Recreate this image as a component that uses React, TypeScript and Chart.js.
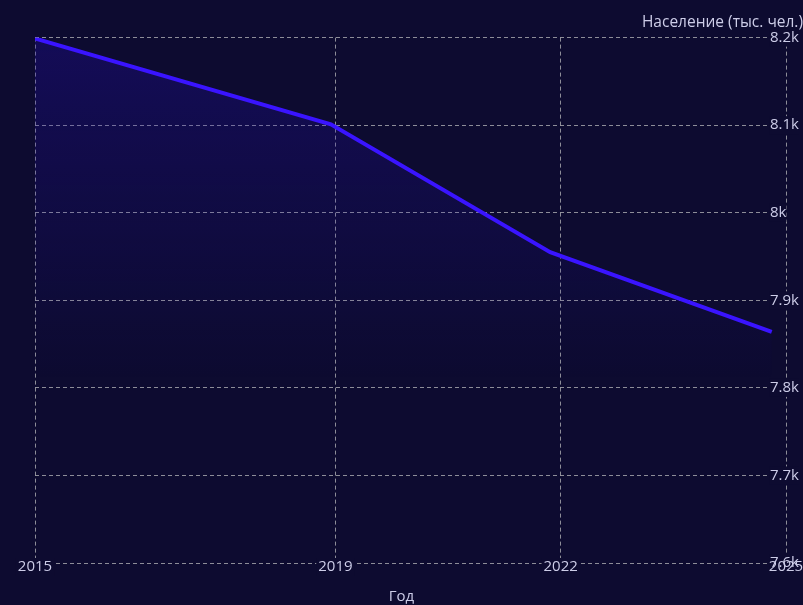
import React, { useEffect, useRef } from 'react';
import { Chart, registerables } from 'chart.js';

Chart.register(...registerables);

// Data
const years = [2015, 2018.94, 2021.86, 2024.81];
const population = [8199, 8101, 7955, 7864];
const xTickValues = [2015, 2019, 2022, 2025];
const yTickValues = [7600, 7700, 7800, 7900, 8000, 8100, 8200];
const yAxisTitle = 'Население (тыс. чел.)';
const xAxisTitle = 'Год';

const BG = '#0d0b30';
const TEXT = '#cdcde8';
const GRID = 'rgba(165,165,170,0.85)';
const LINE = '#3a14ff';
const FONT = '"Open Sans", "Noto Sans", sans-serif';

export default function App() {
  const ref = useRef<HTMLCanvasElement>(null);

  useEffect(() => {
    document.body.style.margin = '0';
    document.body.style.background = BG;
    const canvas = ref.current!;
    const font = { family: FONT, size: 15, weight: 'normal' as const };

    const chart = new Chart(canvas, {
      type: 'line',
      data: {
        datasets: [
          {
            data: years.map((x, i) => ({ x, y: population[i] })),
            borderColor: LINE,
            borderWidth: 4,
            pointRadius: 0,
            tension: 0,
            fill: 'start',
            backgroundColor: (ctx: any) => {
              const c = ctx.chart;
              const area = c.chartArea;
              if (!area) return 'transparent';
              const g = c.ctx.createLinearGradient(0, area.top, 0, area.bottom);
              g.addColorStop(0, 'rgba(35,15,170,0.32)');
              g.addColorStop(0.65, 'rgba(35,15,170,0)');
              return g;
            },
          },
        ],
      },
      options: {
        animation: false,
        responsive: false,
        devicePixelRatio: 1,
        layout: { padding: 0 },
        plugins: {
          legend: { display: false },
          tooltip: { enabled: false },
          title: {
            display: true,
            text: yAxisTitle,
            align: 'end',
            color: TEXT,
            font: { ...font, size: 15.5 },
            padding: { top: 13, bottom: 6 },
          },
          subtitle: {
            display: true,
            position: 'bottom',
            text: xAxisTitle,
            color: TEXT,
            font,
            padding: { top: 0, bottom: -1 },
          },
        },
        scales: {
          y: {
            type: 'linear',
            position: 'right',
            min: 7600,
            max: 8200,
            afterBuildTicks: (s: any) => {
              s.ticks = yTickValues.map((v) => ({ value: v }));
            },
            afterFit: (s: any) => {
              s.width = 17;
            },
            grid: { color: GRID, drawTicks: false, lineWidth: 1 },
            border: { display: false, dash: [4, 3] },
            ticks: {
              color: TEXT,
              font,
              mirror: true,
              padding: 13,
              crossAlign: 'far',
              showLabelBackdrop: true,
              backdropColor: BG,
              backdropPadding: { top: 0, bottom: 0, left: 1, right: 0 },
              callback: (v: any) => Number(v) / 1000 + 'k',
            },
          },
          x: {
            type: 'linear',
            position: 'bottom',
            min: 2015,
            max: 2025,
            afterBuildTicks: (s: any) => {
              s.ticks = xTickValues.map((v) => ({ value: v }));
            },
            afterFit: (s: any) => {
              s.height = 25;
            },
            grid: { color: GRID, drawTicks: false, lineWidth: 1 },
            border: { display: false, dash: [4, 3] },
            ticks: {
              color: TEXT,
              font,
              mirror: true,
              padding: -13,
              maxRotation: 0,
              autoSkip: false,
              showLabelBackdrop: true,
              backdropColor: (ctx: any) =>
                ctx.index === xTickValues.length - 1 ? 'rgba(0,0,0,0)' : BG,
              backdropPadding: { top: 0, bottom: 0, left: 2, right: 2 },
              callback: (v: any) => String(v),
            },
          },
          yl: {
            type: 'linear',
            position: 'left',
            display: true,
            grid: { display: false },
            border: { display: false },
            ticks: { display: false },
            afterFit: (s: any) => {
              s.width = 35;
            },
          },
        },
      } as any,
    });
    return () => chart.destroy();
  }, []);

  return (
    <div style={{ width: 803, height: 605, background: BG }}>
      <canvas ref={ref} width={803} height={605} style={{ display: 'block' }} />
    </div>
  );
}
